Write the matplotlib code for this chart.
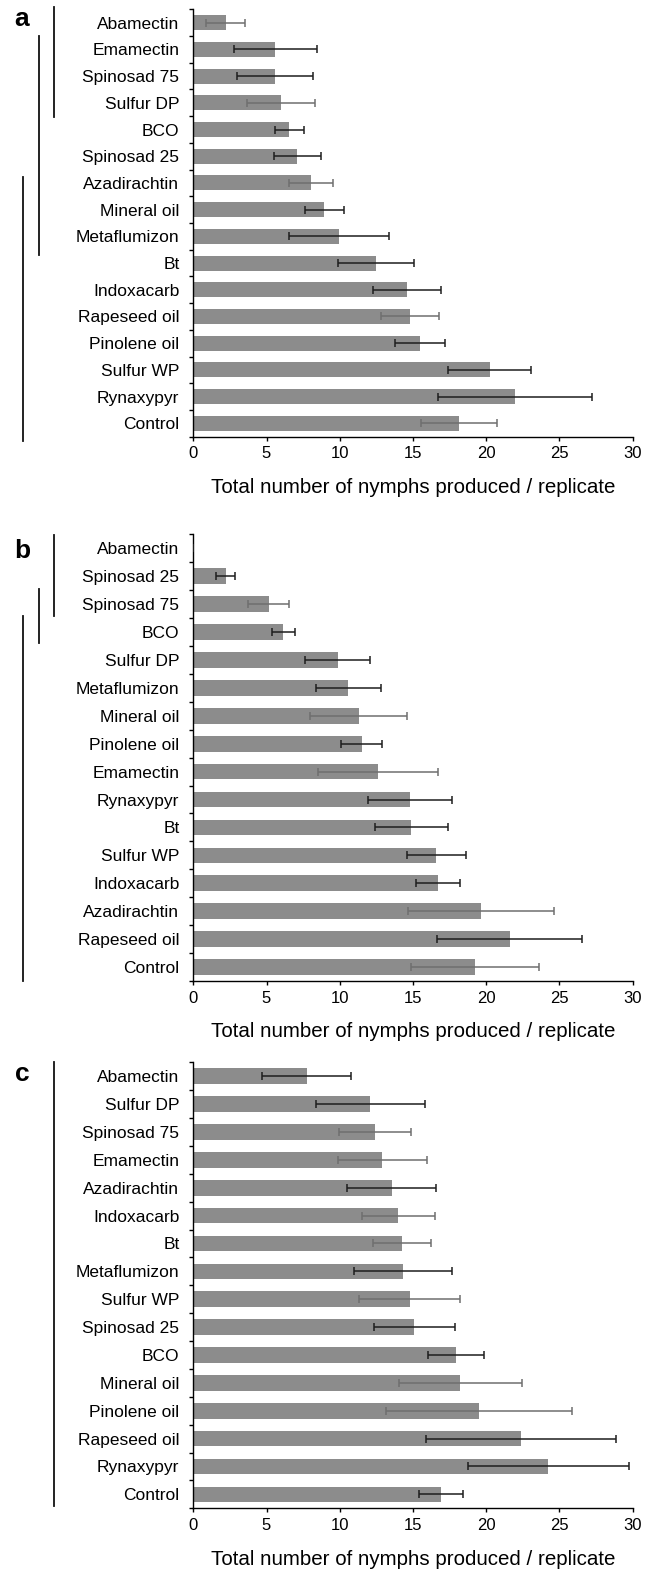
import matplotlib
matplotlib.use("Agg")
import matplotlib.pyplot as plt
import matplotlib.transforms as mtransforms
import numpy as np

plt.rcParams['font.family'] = ['Liberation Sans', 'DejaVu Sans']

# panel a
names_a = ['Abamectin', 'Emamectin', 'Spinosad 75', 'Sulfur DP', 'BCO', 'Spinosad 25',
           'Azadirachtin', 'Mineral oil', 'Metaflumizon', 'Bt', 'Indoxacarb',
           'Rapeseed oil', 'Pinolene oil', 'Sulfur WP', 'Rynaxypyr', 'Control']
mean_a = [2.2, 5.6, 5.6, 6.0, 6.55, 7.1, 8.05, 8.95, 9.95, 12.45, 14.6, 14.8, 15.5, 20.25, 21.95, 18.15]
err_a = [1.3, 2.85, 2.6, 2.3, 1.0, 1.6, 1.5, 1.35, 3.4, 2.6, 2.3, 1.95, 1.7, 2.85, 5.25, 2.6]
ecol_a = ['g', 'k', 'k', 'g', 'k', 'k', 'g', 'k', 'k', 'k', 'k', 'g', 'k', 'k', 'k', 'g']
groups_a = [(-0.59, 3.53), (0.5, 8.7), (5.78, 15.67)]

# panel b
names_b = ['Abamectin', 'Spinosad 25', 'Spinosad 75', 'BCO', 'Sulfur DP', 'Metaflumizon',
           'Mineral oil', 'Pinolene oil', 'Emamectin', 'Rynaxypyr', 'Bt', 'Sulfur WP',
           'Indoxacarb', 'Azadirachtin', 'Rapeseed oil', 'Control']
mean_b = [0, 2.2, 5.15, 6.15, 9.85, 10.6, 11.3, 11.5, 12.6, 14.8, 14.9, 16.6, 16.7, 19.65, 21.6, 19.25]
err_b = [0, 0.65, 1.4, 0.8, 2.2, 2.25, 3.3, 1.4, 4.1, 2.9, 2.5, 2.0, 1.5, 5.0, 4.95, 4.35]
ecol_b = ['k', 'k', 'g', 'k', 'k', 'k', 'g', 'k', 'g', 'k', 'k', 'k', 'k', 'g', 'k', 'g']
groups_b = [(-0.48, 2.43), (1.45, 3.4), (2.43, 15.5)]

# panel c
names_c = ['Abamectin', 'Sulfur DP', 'Spinosad 75', 'Emamectin', 'Azadirachtin', 'Indoxacarb',
           'Bt', 'Metaflumizon', 'Sulfur WP', 'Spinosad 25', 'BCO', 'Mineral oil',
           'Pinolene oil', 'Rapeseed oil', 'Rynaxypyr', 'Control']
mean_c = [7.75, 12.1, 12.4, 12.9, 13.55, 14.0, 14.25, 14.35, 14.8, 15.1, 17.95, 18.25, 19.5, 22.4, 24.25, 16.95]
err_c = [3.05, 3.75, 2.45, 3.05, 3.05, 2.5, 2.0, 3.35, 3.45, 2.75, 1.9, 4.2, 6.35, 6.5, 5.5, 1.5]
ecol_c = ['k', 'k', 'g', 'g', 'k', 'g', 'g', 'k', 'g', 'k', 'k', 'g', 'g', 'k', 'k', 'k']
groups_c = [(-0.5, 15.41)]

panels = [('a', names_a, mean_a, err_a, ecol_a, groups_a),
          ('b', names_b, mean_b, err_b, ecol_b, groups_b),
          ('c', names_c, mean_c, err_c, ecol_c, groups_c)]

W, H = 667, 1570
fig = plt.figure(figsize=(W / 100, H / 100), dpi=100)

# axes boxes in pixels (top, bottom)
boxes = [(9.3, 436.7), (534.3, 981.0), (1062.3, 1508.3)]
letter_y = [19, 551, 1074]
line_x = [54, 39, 23]
x0, x1 = 193.3, 632.5
colmap = {'k': '#1e1e1e', 'g': '#6f6f6f'}

for (lett, names, mean, err, ecol, groups), (top, bot), ly in zip(panels, boxes, letter_y):
    ax = fig.add_axes([x0 / W, 1 - bot / H, (x1 - x0) / W, (bot - top) / H])
    y = np.arange(len(names))
    ax.barh(y, mean, height=0.56, color='#8c8c8c', edgecolor='none', zorder=2)
    for yi, m, e, c in zip(y, mean, err, ecol):
        ax.errorbar(m, yi, xerr=e, fmt='none', ecolor=colmap[c], elinewidth=1.1,
                    capsize=2.6, capthick=1.1, zorder=3)
    ax.set_ylim(15.5, -0.5)
    ax.set_xlim(0, 30)
    ax.set_xticks([0, 5, 10, 15, 20, 25, 30])
    ax.set_yticks(y)
    ax.set_yticklabels(names, fontsize=12.5)
    ax.set_yticks(np.arange(-0.5, 16, 1), minor=True)
    ax.tick_params(axis='y', which='major', length=0, pad=10)
    ax.tick_params(axis='y', which='minor', length=3, width=1, direction='out')
    ax.tick_params(axis='x', length=3, width=1, direction='out', labelsize=12, pad=4)
    for s in ['top', 'right']:
        ax.spines[s].set_visible(False)
    for s in ['left', 'bottom']:
        ax.spines[s].set_linewidth(1.0)
    ax.set_xlabel('Total number of nymphs produced / replicate', fontsize=14.8, labelpad=12)

    trans = mtransforms.blended_transform_factory(fig.transFigure, ax.transData)
    for (g0, g1), lx in zip(groups, line_x):
        ax.plot([lx / W, lx / W], [g0, g1], color='#111111', lw=1.3,
                transform=trans, clip_on=False)

    fig.text(22 / W, 1 - ly / H, lett, fontsize=19, fontweight='bold',
             ha='center', va='center')

fig.savefig('out.png', dpi=100)
